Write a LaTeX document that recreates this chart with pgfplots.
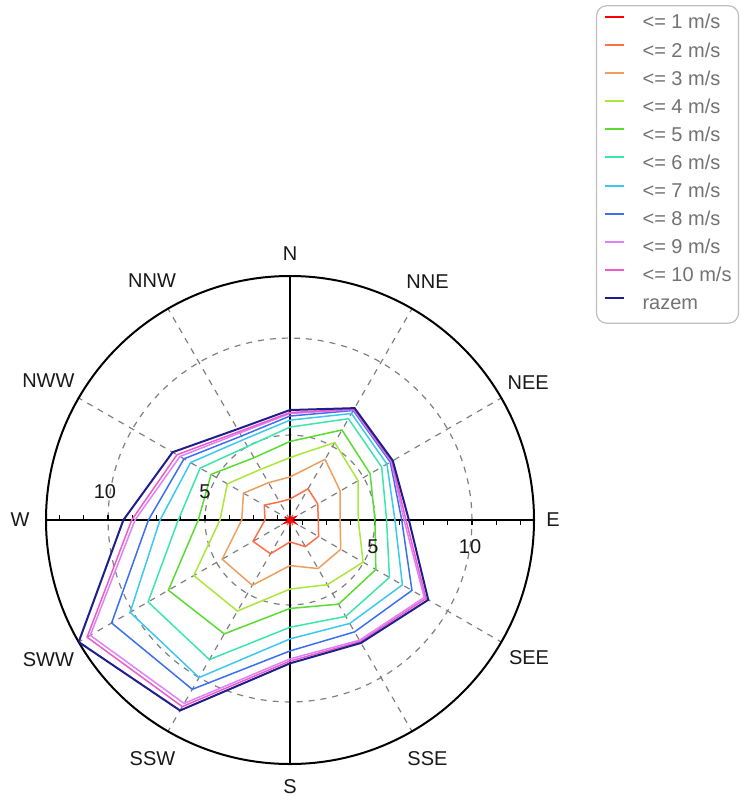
\documentclass[border=0pt]{standalone}
\usepackage{fontspec}
\setmainfont{Liberation Sans}
\usepackage{pgfplots}
\pgfplotsset{compat=1.18}
\usepgfplotslibrary{polar}
\usepackage{pgfplotstable}

\definecolor{c1}{RGB}{255,0,0}
\definecolor{c2}{RGB}{255,110,70}
\definecolor{c3}{RGB}{235,160,95}
\definecolor{c4}{RGB}{170,230,60}
\definecolor{c5}{RGB}{90,220,50}
\definecolor{c6}{RGB}{60,230,170}
\definecolor{c7}{RGB}{60,200,240}
\definecolor{c8}{RGB}{60,110,240}
\definecolor{c9}{RGB}{220,130,250}
\definecolor{c10}{RGB}{240,90,200}
\definecolor{ctot}{RGB}{30,30,140}

% angle (deg, counter-clockwise from E), cumulative frequency per speed class
\pgfplotstableread{
a v1 v2 v3 v4 v5 v6 v7 v8 v9 v10 tot
90 0.88 1.70 2.84 3.84 4.67 5.41 5.77 5.98 6.11 6.16 6.29
60 0.72 2.48 4.23 5.23 5.98 6.65 6.96 7.14 7.19 7.22 7.28
30 0.93 2.27 3.61 4.67 5.39 6.08 6.39 6.59 6.65 6.68 6.74
0 0.72 2.08 3.20 4.14 5.00 5.60 6.03 6.38 6.50 6.60 6.75
-30 0.93 2.32 3.64 4.97 5.73 6.54 7.31 7.88 8.61 8.71 8.85
-60 0.67 2.20 3.51 4.47 5.63 6.36 6.78 7.28 7.78 7.86 7.94
-90 0.88 1.75 2.97 4.18 5.18 6.15 6.75 7.37 7.78 7.89 8.01
-120 0.72 2.63 4.51 6.04 7.40 8.93 10.00 10.70 11.54 11.73 11.96
-150 0.93 2.82 4.66 6.35 7.86 9.07 10.14 11.24 12.51 12.70 13.20
-180 0.67 1.91 3.11 4.23 5.35 6.38 7.32 7.92 8.61 8.78 9.21
-210 0.93 2.15 3.39 4.35 5.32 5.97 6.54 6.93 7.17 7.35 7.61
-240 0.62 1.70 2.84 3.64 4.33 5.00 5.41 5.62 5.80 5.88 6.03
-270 0.88 1.70 2.84 3.84 4.67 5.41 5.77 5.98 6.11 6.16 6.29
}\winddata

\begin{document}
\begin{tikzpicture}
\path[use as bounding box] (0,0) rectangle (370pt,-398pt);
\begin{polaraxis}[
  scale only axis, width=244pt, height=244pt,
  at={(145pt,-260pt)}, anchor=center,
  xmin=0, xmax=360, ymin=0, ymax=12.58,
  xtick={30,60,120,150,210,240,300,330},
  ytick={4.38,9.38},
  xticklabels={,,,,,,,,,}, yticklabels={,,,},
  major tick length=0pt,
  grid=major,
  major grid style={gray, dash pattern=on 3pt off 3pt, line width=0.6pt},
  axis line style={black, line width=1pt},
  y axis line style={draw=none},
  legend cell align=left,
  legend style={
    at={(1.127,1.555)}, anchor=north west,
    draw=black!25, rounded corners=5pt, line width=0.6pt,
    font=\fontsize{10}{12}\selectfont, text=black!55,
    inner xsep=3.5pt, inner ysep=4pt,
    row sep=3.85pt, column sep=9pt,
    nodes={inner sep=0pt, text height=7.6pt, text depth=2.6pt},
  },
  legend image code/.code={\draw[#1, line width=1pt] (0pt,3.5pt) -- (9.5pt,3.5pt);},
]
\draw[black, line width=1pt] (axis cs:0,12.58) -- (axis cs:180,12.58);
\draw[black, line width=1pt] (axis cs:90,12.58) -- (axis cs:270,12.58);
\pgfplotsinvokeforeach{0.63,1.88,3.13,4.38,5.63,6.88,8.13,9.38,10.63,11.88}{
  \draw[black, line width=0.6pt] (axis cs:0,#1) -- ++(0pt,-2.5pt);
  \draw[black, line width=0.6pt] (axis cs:180,#1) -- ++(0pt,2.5pt);
}
\addplot[c1, no markers, line width=0.75pt] table[x=a, y expr=\thisrow{v1}-0.62] {\winddata};
\addlegendentry{<= 1 m/s}
\addplot[c2, no markers, line width=0.75pt] table[x=a, y expr=\thisrow{v2}-0.62] {\winddata};
\addlegendentry{<= 2 m/s}
\addplot[c3, no markers, line width=0.75pt] table[x=a, y expr=\thisrow{v3}-0.62] {\winddata};
\addlegendentry{<= 3 m/s}
\addplot[c4, no markers, line width=0.75pt] table[x=a, y expr=\thisrow{v4}-0.62] {\winddata};
\addlegendentry{<= 4 m/s}
\addplot[c5, no markers, line width=0.75pt] table[x=a, y expr=\thisrow{v5}-0.62] {\winddata};
\addlegendentry{<= 5 m/s}
\addplot[c6, no markers, line width=0.75pt] table[x=a, y expr=\thisrow{v6}-0.62] {\winddata};
\addlegendentry{<= 6 m/s}
\addplot[c7, no markers, line width=0.75pt] table[x=a, y expr=\thisrow{v7}-0.62] {\winddata};
\addlegendentry{<= 7 m/s}
\addplot[c8, no markers, line width=0.75pt] table[x=a, y expr=\thisrow{v8}-0.62] {\winddata};
\addlegendentry{<= 8 m/s}
\addplot[c9, no markers, line width=0.75pt] table[x=a, y expr=\thisrow{v9}-0.62] {\winddata};
\addlegendentry{<= 9 m/s}
\addplot[c10, no markers, line width=0.75pt] table[x=a, y expr=\thisrow{v10}-0.62] {\winddata};
\addlegendentry{<= 10 m/s}
\addplot[ctot, no markers, line width=1pt] table[x=a, y expr=\thisrow{tot}-0.62] {\winddata};
\addlegendentry{razem}
\end{polaraxis}
\begin{scope}[shift={(145pt,-260pt)}, font=\fontsize{10}{12}\selectfont, text=black!90]
\node at (90:133pt) {N};
\node at (60:137.5pt) {NNE};
\node at (30:137.5pt) {NEE};
\node at (0:131.5pt) {E};
\node at (-30:138pt) {SEE};
\node at (-60:137.5pt) {SSE};
\node at (-90:133.5pt) {S};
\node at (-120:137.5pt) {SSW};
\node at (-150:139.5pt) {SWW};
\node at (180:135pt) {W};
\node at (150:139.5pt) {NWW};
\node at (120:138pt) {NNW};
\node at (-92.5pt,14pt) {10};
\node at (-42.5pt,14pt) {5};
\node at (41.5pt,-13.5pt) {5};
\node at (90pt,-13.5pt) {10};
\end{scope}
\end{tikzpicture}
\end{document}
